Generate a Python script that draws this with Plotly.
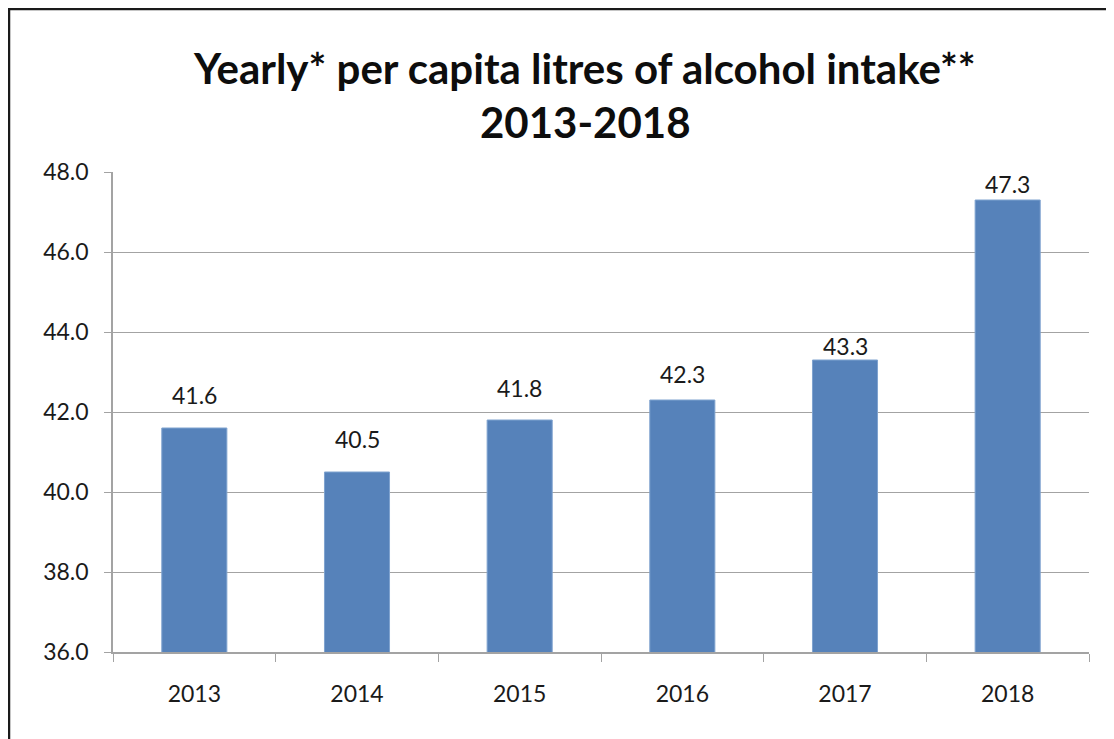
import plotly.graph_objects as go

# ── data ──────────────────────────────────────────
years = ['2013', '2014', '2015', '2016', '2017', '2018']
litres = [41.6, 40.5, 41.8, 42.3, 43.3, 47.3]
y_ticks = [36, 38, 40, 42, 44, 46, 48]
y_labels = ['36.0', '38.0', '40.0', '42.0', '44.0', '46.0', '48.0']

# ── style ─────────────────────────────────────────
label_lift = [33, 33, 32, 26, 14, 16]   # px between bar top and label centre

# the page puts the figure 8px in from the window corner
W, H = 1106, 731
L, R, T, B = 105, 1081, 164, 644


def px(x):
    return (x - L) / (R - L)


def py(y):
    return (B - y) / (B - T)


FONT = 'Lato'
GREY = '#a3a3a3'

fig = go.Figure(
    go.Bar(x=years, y=litres, width=0.4,
           marker=dict(color='#5682BA', line=dict(color='#7FA3CF', width=1)),
           hoverinfo='x+y')
)

# value labels (category axis: annotation x is the category index)
for i, (v, lift) in enumerate(zip(litres, label_lift)):
    fig.add_annotation(x=i, y=v, text=f'{v:.1f}', showarrow=False,
                       yanchor='middle', yshift=lift,
                       font=dict(size=23, family=FONT, color='#1a1a1a'))

fig.update_layout(
    width=W, height=H,
    margin=dict(l=L, r=W - R, t=T, b=H - B),
    paper_bgcolor='white', plot_bgcolor='white',
    showlegend=False,
    font=dict(family=FONT, color='#1a1a1a'),
)

fig.update_yaxes(range=[36, 48], tickvals=y_ticks, ticktext=y_labels,
                 showgrid=True, gridcolor=GREY, gridwidth=1.3,
                 showline=True, linecolor=GREY, linewidth=1.5,
                 ticks='outside', ticklen=7, tickcolor=GREY,
                 tickfont=dict(size=23, family=FONT), ticklabelstandoff=11,
                 zeroline=False)
fig.update_xaxes(type='category', range=[-0.5, 5.5],
                 showline=True, linecolor=GREY, linewidth=1.5,
                 ticks='outside', tickson='boundaries', ticklen=8,
                 tickcolor=GREY, tickfont=dict(size=23, family=FONT),
                 ticklabelstandoff=21)

# title
fig.add_annotation(text='<b>Yearly* per capita litres of alcohol intake**</b>',
                   xref='paper', yref='paper', x=px(576), y=py(60),
                   xanchor='center', yanchor='middle',
                   showarrow=False, font=dict(size=42, family=FONT, color='#0d0d0d'))
fig.add_annotation(text='<b>2013-2018</b>',
                   xref='paper', yref='paper', x=px(577), y=py(114),
                   xanchor='center', yanchor='middle',
                   showarrow=False, font=dict(size=42, family=FONT, color='#0d0d0d'))

# outer frame (left and top edges visible)
fig.add_shape(type='line', xref='paper', yref='paper',
              x0=px(1), x1=px(1), y0=py(0), y1=py(760),
              line=dict(color='#1a1a1a', width=2.5))
fig.add_shape(type='line', xref='paper', yref='paper',
              x0=px(0), x1=px(1130), y0=py(1), y1=py(1),
              line=dict(color='#1a1a1a', width=2.5))

fig.write_html('out.html')
